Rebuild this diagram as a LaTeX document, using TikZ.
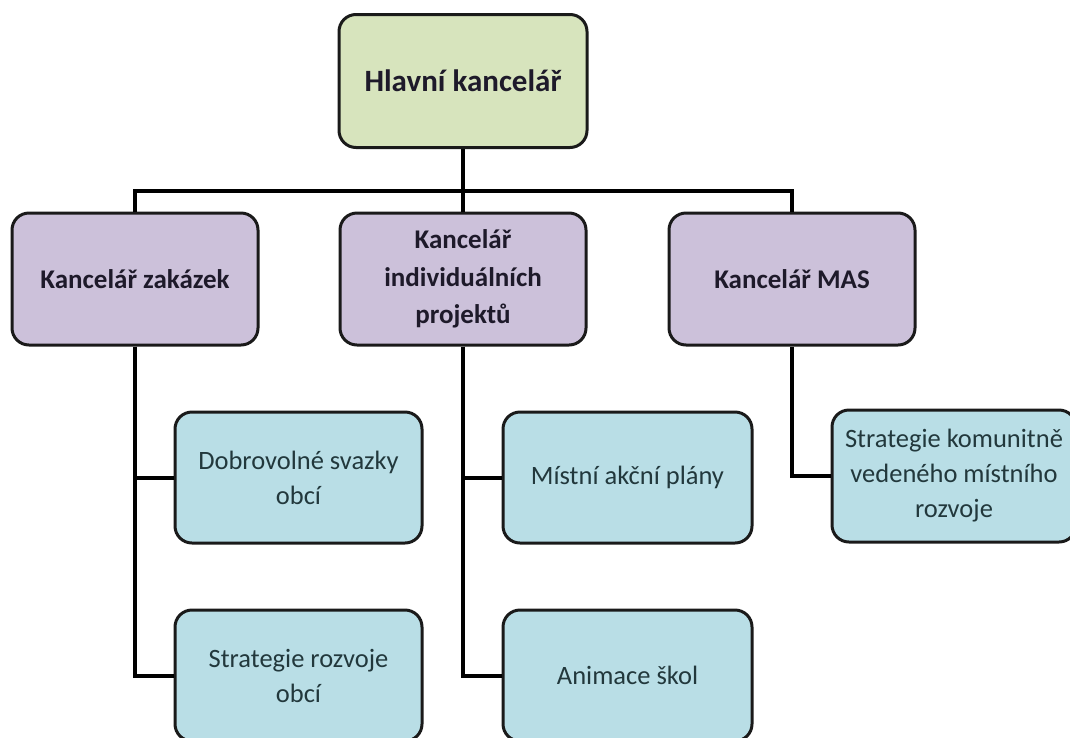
\documentclass[tikz,border=0pt]{standalone}
\usepackage{fontspec}
\setmainfont{Carlito}
\definecolor{topgreen}{HTML}{D7E4BD}
\definecolor{midpurple}{HTML}{CCC1DA}
\definecolor{childblue}{HTML}{B9DEE6}
\definecolor{edgecol}{HTML}{1A1A1A}
\definecolor{childtext}{HTML}{22383C}
\definecolor{boldtext}{HTML}{1E1A2A}
\tikzset{
  box/.style={draw=edgecol, line width=3pt, rounded corners=17pt, align=center, inner sep=0pt},
  topbox/.style={box, fill=topgreen, minimum width=248pt, minimum height=133pt,
    font=\fontsize{31}{36}\selectfont\bfseries, text=boldtext},
  midbox/.style={box, fill=midpurple, minimum width=246pt, minimum height=132pt,
    font=\fontsize{27}{37.5}\selectfont\bfseries, text=boldtext},
  childbox/.style={box, fill=childblue, minimum height=131pt,
    font=\fontsize{26.5}{35}\selectfont, text=childtext},
  conn/.style={draw=black, line width=4pt, line join=miter}
}
\begin{document}
\begin{tikzpicture}[x=1pt,y=-1pt]
\useasboundingbox (0,0) rectangle (1070,737);
\coordinate (bus) at (463,191);
\coordinate (busL) at (135,191);
\coordinate (busR) at (792,191);
\node[topbox] (top) at (463,81) {Hlavní kancelář};
\node[midbox] (k1) at (135,279) {Kancelář zakázek};
\node[midbox] (k2) at (463,279) {Kancelář\\individuálních\\projektů};
\node[midbox] (k3) at (792,279) {Kancelář MAS};
\node[childbox, minimum width=247pt] (c1) at (298.5,477.5) {Dobrovolné svazky\\obcí};
\node[childbox, minimum width=247pt] (c2) at (298.5,675.5) {Strategie rozvoje\\obcí};
\node[childbox, minimum width=249pt] (c3) at (627.5,477.5) {Místní akční plány};
\node[childbox, minimum width=249pt] (c4) at (627.5,675.5) {Animace škol};
\node[childbox, minimum width=244pt, minimum height=132pt] (c5) at (954,476) {Strategie komunitně\\vedeného místního\\rozvoje};
\draw[conn] (top.south) -- (bus);
\draw[conn] (k1.north) -- (busL) -- (busR) -- (k3.north);
\draw[conn] (bus) -- (k2.north);
\draw[conn] (k1.south) |- (c1.west);
\draw[conn] (k1.south) |- (c2.west);
\draw[conn] (k2.south) |- (c3.west);
\draw[conn] (k2.south) |- (c4.west);
\draw[conn] (k3.south) |- (c5.west);
\end{tikzpicture}
\end{document}
